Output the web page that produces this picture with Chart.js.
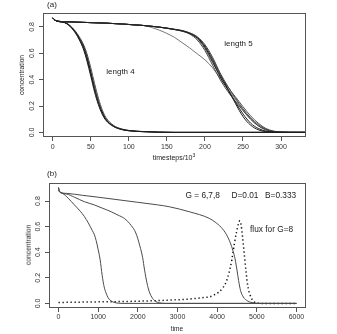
<!DOCTYPE html>
<html>
<head>
<meta charset="utf-8">
<script src="https://cdn.jsdelivr.net/npm/chart.js@4.4.0/dist/chart.umd.min.js"></script>
<style>
  body { margin: 0; background: #fff; }
  #wrap { position: relative; width: 337px; height: 334px; overflow: hidden; font-family: "Liberation Sans", Arial, sans-serif; color: #222; }
  canvas { position: absolute; left: 0; }
  #chartA { top: 0; }
  #chartB { top: 165px; }
  .lbl { position: absolute; white-space: nowrap; line-height: 1; transform: translate(-50%, -50%); }
  .lbl.left { transform: translate(0, -50%); }
  .lbl.rot { transform: translate(-50%, -50%) rotate(-90deg); }
  sup { font-size: 5px; vertical-align: 3px; }
</style>
</head>
<body>
<div id="wrap">
  <canvas id="chartA" width="337" height="165"></canvas>
  <canvas id="chartB" width="337" height="169"></canvas>

  <div class="lbl" style="left:52px; top:5px; font-size:8px;">(a)</div>
  <div class="lbl" style="left:120.5px; top:71.5px; font-size:8px;">length 4</div>
  <div class="lbl" style="left:238.5px; top:43.5px; font-size:8px;">length 5</div>
  <div class="lbl rot" style="left:22px; top:75px; font-size:6.7px;">concentration</div>
  <div class="lbl" style="left:174px; top:157px; font-size:7px;">timesteps/10<sup>3</sup></div>

  <div class="lbl" style="left:52px; top:174px; font-size:8px;">(b)</div>
  <div class="lbl left" style="left:185.5px; top:194.5px; font-size:8.3px;">G = 6,7,8</div>
  <div class="lbl left" style="left:231.5px; top:194.5px; font-size:8.3px;">D=0.01</div>
  <div class="lbl left" style="left:265px; top:194.5px; font-size:8.3px;">B=0.333</div>
  <div class="lbl left" style="left:250px; top:229px; font-size:8.3px;">flux for G=8</div>
  <div class="lbl rot" style="left:28.5px; top:245px; font-size:6.7px;">concentration</div>
  <div class="lbl" style="left:177px; top:329px; font-size:6.5px;">time</div>
</div>

<script>
// ---- panel (a): timesteps/10^3 vs concentration
var tA = [0, 3, 8, 15, 20, 25, 30, 35, 40, 45, 50, 55, 60, 65, 70, 80, 90, 100, 120, 140,
          150, 160, 170, 180, 190, 200, 210, 220, 230, 240, 250, 260, 270, 280, 290, 300, 310, 320, 340];

var len4a = [0.868, 0.850, 0.840, 0.834, 0.820, 0.795, 0.760, 0.715, 0.660, 0.575, 0.460, 0.340, 0.235, 0.155, 0.100, 0.048, 0.025, 0.014, 0.006, 0.002,
             0.001, 0, 0, 0, 0, 0, 0, 0, 0, 0, 0, 0, 0, 0, 0, 0, 0, 0, 0];
var len4b = [0.868, 0.850, 0.840, 0.833, 0.817, 0.789, 0.751, 0.700, 0.635, 0.540, 0.425, 0.305, 0.210, 0.138, 0.090, 0.044, 0.022, 0.012, 0.005, 0.001,
             0, 0, 0, 0, 0, 0, 0, 0, 0, 0, 0, 0, 0, 0, 0, 0, 0, 0, 0];
var len4c = [0.868, 0.850, 0.840, 0.835, 0.822, 0.798, 0.766, 0.724, 0.672, 0.596, 0.490, 0.370, 0.260, 0.172, 0.112, 0.053, 0.027, 0.015, 0.006, 0.002,
             0.001, 0, 0, 0, 0, 0, 0, 0, 0, 0, 0, 0, 0, 0, 0, 0, 0, 0, 0];
var len4d = [0.868, 0.850, 0.840, 0.834, 0.819, 0.792, 0.756, 0.708, 0.648, 0.558, 0.443, 0.322, 0.222, 0.146, 0.095, 0.046, 0.023, 0.013, 0.005, 0.002,
             0.001, 0, 0, 0, 0, 0, 0, 0, 0, 0, 0, 0, 0, 0, 0, 0, 0, 0, 0];

var len5a = [0.868, 0.850, 0.842, 0.839, 0.838, 0.837, 0.836, 0.835, 0.834, 0.833, 0.832, 0.831, 0.830, 0.829, 0.828, 0.825, 0.822, 0.818, 0.810, 0.798,
             0.790, 0.780, 0.770, 0.750, 0.715, 0.645, 0.540, 0.420, 0.325, 0.230, 0.140, 0.070, 0.030, 0.010, 0.004, 0.001, 0, 0, 0];
var len5b = [0.868, 0.850, 0.842, 0.839, 0.838, 0.837, 0.836, 0.835, 0.834, 0.833, 0.832, 0.831, 0.830, 0.829, 0.828, 0.825, 0.822, 0.818, 0.810, 0.798,
             0.791, 0.782, 0.772, 0.755, 0.725, 0.665, 0.570, 0.450, 0.350, 0.260, 0.180, 0.110, 0.060, 0.025, 0.008, 0.002, 0, 0, 0];
var len5c = [0.868, 0.850, 0.842, 0.839, 0.838, 0.837, 0.836, 0.835, 0.834, 0.833, 0.832, 0.831, 0.830, 0.829, 0.828, 0.825, 0.822, 0.818, 0.810, 0.798,
             0.789, 0.779, 0.767, 0.745, 0.700, 0.620, 0.510, 0.400, 0.310, 0.235, 0.165, 0.100, 0.050, 0.020, 0.007, 0.002, 0, 0, 0];
var len5d = [0.868, 0.850, 0.842, 0.839, 0.838, 0.837, 0.836, 0.835, 0.834, 0.833, 0.832, 0.831, 0.830, 0.829, 0.828, 0.825, 0.822, 0.818, 0.810, 0.798,
             0.790, 0.781, 0.771, 0.752, 0.720, 0.655, 0.555, 0.440, 0.330, 0.220, 0.120, 0.055, 0.020, 0.006, 0.002, 0, 0, 0, 0];
var len5e = [0.868, 0.850, 0.842, 0.839, 0.838, 0.837, 0.836, 0.835, 0.834, 0.833, 0.832, 0.831, 0.830, 0.829, 0.828, 0.825, 0.822, 0.818, 0.810, 0.798,
             0.789, 0.780, 0.768, 0.748, 0.710, 0.635, 0.530, 0.430, 0.345, 0.270, 0.195, 0.125, 0.070, 0.030, 0.010, 0.003, 0.001, 0, 0];
var len5odd = [0.868, 0.850, 0.842, 0.839, 0.838, 0.837, 0.836, 0.835, 0.834, 0.833, 0.832, 0.831, 0.830, 0.829, 0.828, 0.825, 0.822, 0.818, 0.810, 0.775,
               0.750, 0.720, 0.680, 0.640, 0.595, 0.550, 0.490, 0.410, 0.330, 0.250, 0.170, 0.100, 0.050, 0.020, 0.006, 0.001, 0, 0, 0];

var ticksAX = [0, 50, 100, 150, 200, 250, 300];
var ticksAY = [0, 0.2, 0.4, 0.6, 0.8];

// ---- panel (b): time vs concentration, G = 6,7,8 and flux for G=8
var g6Time = [0, 20, 100, 250, 400, 550, 650, 750, 850, 900, 950, 1000, 1050, 1100, 1150, 1200, 1250, 1300, 1400, 1500, 1600, 6000];
var g6Conc = [0.905, 0.875, 0.86, 0.82, 0.77, 0.72, 0.68, 0.63, 0.57, 0.54, 0.49, 0.42, 0.34, 0.22, 0.13, 0.08, 0.045, 0.025, 0.008, 0.002, 0, 0];

var g7Time = [0, 20, 200, 400, 650, 900, 1100, 1330, 1500, 1660, 1830, 1950, 2050, 2120, 2170, 2230, 2290, 2370, 2450, 2550, 2700, 6000];
var g7Conc = [0.905, 0.875, 0.855, 0.83, 0.795, 0.77, 0.745, 0.716, 0.69, 0.664, 0.61, 0.55, 0.45, 0.36, 0.26, 0.16, 0.09, 0.04, 0.015, 0.004, 0, 0];

var g8Time = [0, 20, 200, 600, 1000, 1500, 2000, 2500, 2800, 3300, 3800, 3950, 4100, 4230, 4330, 4400, 4450, 4500, 4540, 4590, 4660, 4760, 4880, 5000, 5100, 6000];
var g8Conc = [0.905, 0.875, 0.86, 0.845, 0.83, 0.81, 0.79, 0.77, 0.755, 0.716, 0.665, 0.635, 0.595, 0.54, 0.475, 0.41, 0.35, 0.26, 0.18, 0.10, 0.05, 0.02, 0.006, 0.001, 0, 0];

var fluxTime = [0, 1000, 1500, 2000, 2500, 2800, 3100, 3400, 3700, 3800, 3950, 4050, 4150, 4230, 4300, 4370, 4430, 4490, 4540, 4570, 4600, 4640, 4685, 4730, 4770, 4830, 4920, 5020, 5100, 6000];
var fluxG8 = [0.007, 0.012, 0.014, 0.017, 0.022, 0.026, 0.03, 0.037, 0.047, 0.05, 0.07, 0.09, 0.125, 0.17, 0.24, 0.34, 0.46, 0.56, 0.625, 0.645, 0.62, 0.52, 0.38, 0.245, 0.14, 0.065, 0.015, 0.002, 0, 0];

var ticksBX = [0, 1000, 2000, 3000, 4000, 5000, 6000];
var ticksBY = [0, 0.2, 0.4, 0.6, 0.8];

var FONT = '"Liberation Sans", Arial, sans-serif';

function toPoints(xs, ys) {
  var pts = [];
  for (var i = 0; i < xs.length; i++) pts.push({x: xs[i], y: ys[i]});
  return pts;
}

function line(xs, ys, color, width, dash) {
  return {
    data: toPoints(xs, ys),
    borderColor: color,
    borderWidth: width,
    borderDash: dash || [],
    pointRadius: 0,
    fill: false,
    cubicInterpolationMode: 'monotone'
  };
}

// R-like box and rotated y tick labels
var rStyle = {
  id: 'rStyle',
  afterDraw: function(chart) {
    var ctx = chart.ctx, a = chart.chartArea, ys = chart.scales.y;
    ctx.save();
    ctx.strokeStyle = '#555';
    ctx.lineWidth = 1;
    ctx.strokeRect(Math.round(a.left) + 0.5, Math.round(a.top) + 0.5,
                   Math.round(a.right - a.left) - 1, Math.round(a.bottom - a.top) - 1);
    ctx.fillStyle = '#333';
    ctx.font = '7px ' + FONT;
    ctx.textAlign = 'center';
    ctx.textBaseline = 'middle';
    ys.ticks.forEach(function(t) {
      var y = ys.getPixelForValue(t.value);
      ctx.save();
      ctx.translate(a.left - 10.5, y);
      ctx.rotate(-Math.PI / 2);
      ctx.fillText(t.value.toFixed(1), 0, 0);
      ctx.restore();
    });
    ctx.restore();
  }
};

function makeChart(id, datasets, opt) {
  return new Chart(document.getElementById(id), {
    type: 'line',
    data: {datasets: datasets},
    plugins: [rStyle],
    options: {
      responsive: false,
      animation: false,
      events: [],
      layout: {padding: {left: 0, top: opt.top, right: opt.right, bottom: 0}},
      plugins: {legend: {display: false}, tooltip: {enabled: false}},
      scales: {
        x: {
          type: 'linear',
          min: opt.xMin, max: opt.xMax,
          afterBuildTicks: function(s) { s.ticks = opt.xTicks.map(function(v) { return {value: v}; }); },
          afterFit: function(s) { s.height = opt.xHeight; },
          border: {display: false},
          grid: {drawOnChartArea: false, drawTicks: true, tickLength: 4, color: '#555'},
          ticks: {
            autoSkip: false, maxRotation: 0, padding: opt.xPad,
            color: '#333', font: {family: FONT, size: 7},
            callback: function(v) { return String(v); }
          }
        },
        y: {
          type: 'linear',
          min: opt.yMin, max: opt.yMax,
          afterBuildTicks: function(s) { s.ticks = opt.yTicks.map(function(v) { return {value: v}; }); },
          afterFit: function(s) { s.width = opt.yWidth; },
          border: {display: false},
          grid: {drawOnChartArea: false, drawTicks: true, tickLength: 4, color: '#555'},
          ticks: {display: false}
        }
      }
    }
  });
}

var darkA = '#1c1c1c';
makeChart('chartA', [
  line(tA, len4a, darkA, 1),
  line(tA, len4b, darkA, 1),
  line(tA, len4c, '#555', 1),
  line(tA, len4d, darkA, 1),
  line(tA, len5a, darkA, 1),
  line(tA, len5b, '#444', 1),
  line(tA, len5c, '#444', 1),
  line(tA, len5d, darkA, 1),
  line(tA, len5e, '#555', 1),
  line(tA, len5odd, '#666', 0.9)
], {
  top: 13, right: 31, yWidth: 43, xHeight: 28, xPad: 2,
  xMin: -12.8, xMax: 332.8, xTicks: ticksAX,
  yMin: -0.035, yMax: 0.905, yTicks: ticksAY
});

makeChart('chartB', [
  line(g6Time, g6Conc, '#4a4a4a', 1),
  line(g7Time, g7Conc, '#4a4a4a', 1),
  line(g8Time, g8Conc, '#4a4a4a', 1),
  line(fluxTime, fluxG8, '#111', 1.5, [1.3, 2.7])
], {
  top: 18, right: 31, yWidth: 49, xHeight: 26, xPad: 1,
  xMin: -240, xMax: 6240, xTicks: ticksBX,
  yMin: -0.036, yMax: 0.941, yTicks: ticksBY
});
</script>
</body>
</html>
